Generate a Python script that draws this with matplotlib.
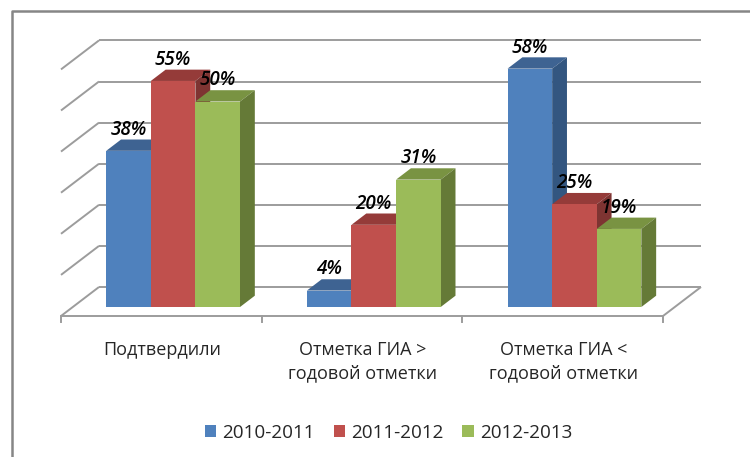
#!/usr/bin/python
import matplotlib
matplotlib.use('Agg')
from matplotlib import pyplot as plt
from matplotlib.lines import Line2D
from matplotlib.patches import Patch, Polygon

plt.rcParams['font.family'] = ['Open Sans', 'DejaVu Sans']

categories = ['Подтвердили', 'Отметка ГИА >\nгодовой отметки', 'Отметка ГИА <\nгодовой отметки']
series_names = ['2010-2011', '2011-2012', '2012-2013']
values_2010 = [38, 4, 58]
values_2011 = [55, 20, 25]
values_2012 = [50, 31, 19]
y_ticks = [0, 10, 20, 30, 40, 50, 60]

front_colors = ['#4F81BD', '#C0504D', '#9BBB59']
top_colors = ['#3E6392', '#953B39', '#799342']
side_colors = ['#335680', '#7E3432', '#657A37']
grid_color = '#9C9C9C'

W = 750.0
H = 457.0
fig = plt.figure(figsize=(7.5, 4.57), dpi=100)
# axes = front edge of the floor, 0..3 categories, 0..60 percent
ax = fig.add_axes([61 / W, (H - 316) / H, 602 / W, 246.6 / H])
ax.set_xlim(0, 3)
ax.set_ylim(0, 60)
ax.axis('off')

# oblique depth of the fake 3d box
depth_x = 38 / 602.0 * 3
depth_y = 29 / 246.6 * 60
bar_front = 0.31
bar_back = 0.70
bar_w = 1 / 4.5


def proj(x, y, d):
    return x + d * depth_x, y + d * depth_y


def line3d(p0, p1, color=grid_color, lw=1.4):
    a = proj(*p0)
    b = proj(*p1)
    ax.plot([a[0], b[0]], [a[1], b[1]], color=color, lw=lw, clip_on=False,
            solid_capstyle='butt', zorder=1)


for t in y_ticks:
    line3d((0, t, 0), (0, t, 1))
    line3d((0, t, 1), (3, t, 1))
line3d((3, 0, 0), (3, 0, 1))
line3d((0, 0, 0), (3, 0, 0))
for i in range(len(categories) + 1):
    ax.plot([i, i], [0, -1.5], color=grid_color, lw=1.4, clip_on=False, zorder=1)


def poly(points, color, z):
    ax.add_patch(Polygon([proj(*p) for p in points], closed=True, facecolor=color,
                         edgecolor='none', clip_on=False, zorder=z))


all_values = [values_2010, values_2011, values_2012]
z = 2
for s, vals in enumerate(all_values):
    for i, v in enumerate(vals):
        x0 = i + 0.75 * bar_w + s * bar_w
        x1 = x0 + bar_w
        poly([(x0, v, bar_front), (x1, v, bar_front), (x1, v, bar_back), (x0, v, bar_back)], top_colors[s], z)
        poly([(x1, 0, bar_front), (x1, v, bar_front), (x1, v, bar_back), (x1, 0, bar_back)], side_colors[s], z)
        poly([(x0, 0, bar_front), (x1, 0, bar_front), (x1, v, bar_front), (x0, v, bar_front)], front_colors[s], z + 0.5)
    z += 1

for s, vals in enumerate(all_values):
    for i, v in enumerate(vals):
        x, y = proj(i + 0.75 * bar_w + (s + 0.5) * bar_w, v, bar_front)
        ax.annotate('%d%%' % v, (x, y), xytext=(0, 15.2), textcoords='offset points',
                    ha='center', va='center', fontsize=13.6, style='italic',
                    fontweight='semibold', color='black', zorder=10, annotation_clip=False)

for i, c in enumerate(categories):
    ax.annotate(c, (i + 0.5, 0), xytext=(0.5, -18), textcoords='offset points',
                ha='center', va='top', fontsize=13, color='#262626',
                linespacing=1.34, annotation_clip=False)

handles = [Patch(facecolor=front_colors[i], edgecolor='none', label=series_names[i]) for i in range(3)]
fig.legend(handles=handles, ncol=3, frameon=False, loc='center',
           bbox_to_anchor=(388.5 / W, (H - 433) / H), fontsize=13.6, handlelength=0.6,
           handleheight=0.6, handletextpad=0.32, columnspacing=1.0, labelcolor='#262626')

# outer frame, only left and top are visible
fig.add_artist(Line2D([12 / W, 12 / W, 1], [0, (H - 11) / H, (H - 11) / H], color='#868686', lw=1.8))

fig.savefig('out.png', dpi=100)
